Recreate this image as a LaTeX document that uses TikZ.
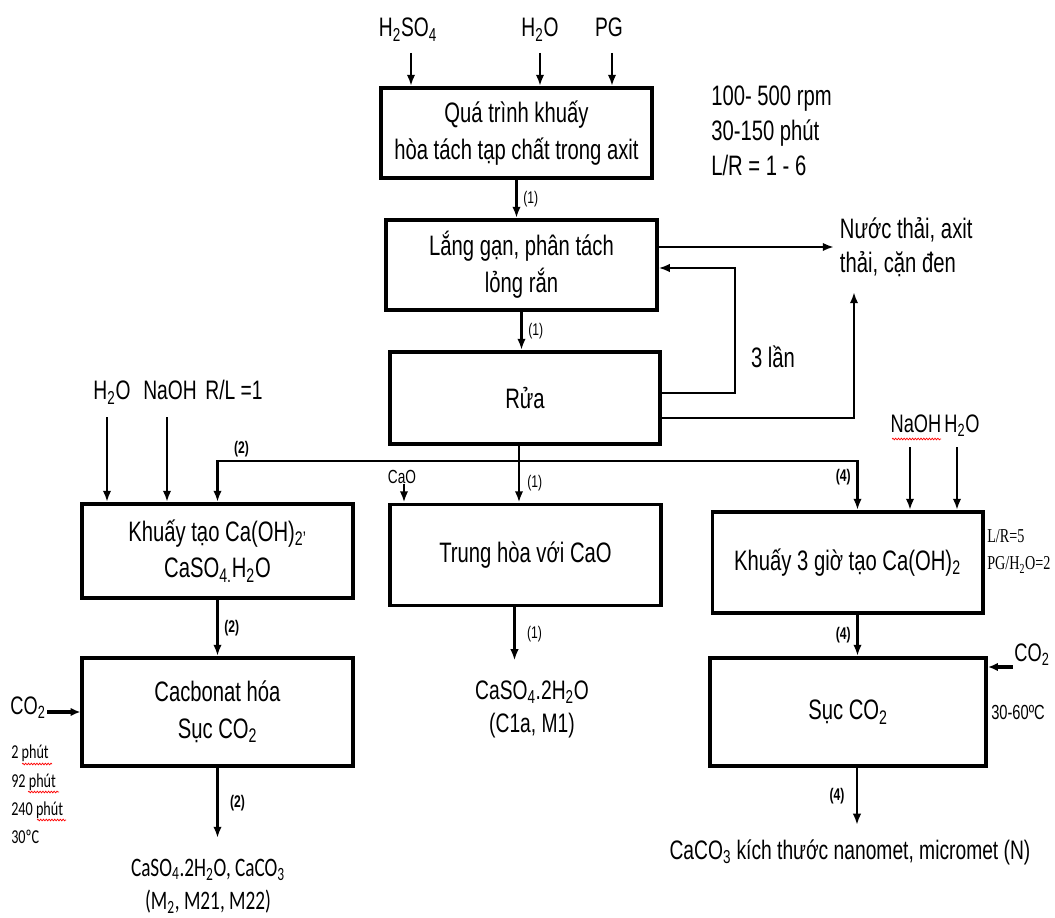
\documentclass[tikz,border=0pt]{standalone}
\usepackage{fontspec}
\setmainfont{Liberation Sans}[FakeStretch=0.72]
\newfontfamily\calibrifont{Carlito}[FakeStretch=0.72]
\newfontfamily\timesfont{Liberation Serif}[FakeStretch=0.72]
\usetikzlibrary{arrows.meta,calc,decorations.pathmorphing,positioning}
\newcommand{\tsub}[1]{\textsubscript{#1}}
\tikzset{%
	process/.style = {draw, rectangle, line width=2.8pt, minimum width=6.75cm, minimum height=2.25cm, text centered, align=center, font=\fontsize{20}{26}\selectfont},
	chem/.style    = {inner sep=1pt, align=center, font=\fontsize{19}{23.5}\selectfont},
	note/.style    = {inner sep=0pt, align=left, font=\fontsize{20}{24}\selectfont},
	lab/.style     = {inner sep=0pt, font=\fontsize{12}{14}\selectfont},
	labb/.style    = {inner sep=0pt, font=\fontsize{12}{14}\selectfont\bfseries},
	cond/.style    = {inner sep=0pt, anchor=west, font=\calibrifont\fontsize{14}{16}\selectfont},
	tnote/.style   = {inner sep=0pt, anchor=west, font=\timesfont\fontsize{14}{16}\selectfont},
	arrow/.style   = {line width=1.8pt,-{Latex[length=8pt,width=6pt]}},
	feed/.style    = {line width=2.6pt,-{Latex[length=7pt,width=6pt]}},
	spell/.style   = {red, line width=0.5pt, decorate, decoration={snake, amplitude=0.6pt, segment length=2pt}},
}
\begin{document}
\begin{tikzpicture}[x=0.025cm, y=-0.025cm]
	\useasboundingbox (0,0) rectangle (1055,918);
	% cac buoc chinh
	\node[process] (quatrinh) at (516.5,133) {Quá trình khuấy\\hòa tách tạp chất trong axit};
	\node[process] (langgan) at (521.5,265) {Lắng gạn, phân tách\\lỏng rắn};
	\node[process, minimum height=2.3cm] (rua) at (525,398) {Rửa};
	\node[process, minimum height=2.35cm] (khuay) at (217.5,551) {Khuấy tạo Ca(OH)\tsub{2'}\\CaSO\tsub{4.}H\tsub{2}O};
	\node[process, minimum height=2.525cm] (trunghoa) at (525.5,555) {Trung hòa với CaO};
	\node[process, minimum height=2.525cm] (khuay3) at (847.5,562.5) {Khuấy 3 giờ tạo Ca(OH)\tsub{2}};
	\node[process, minimum height=2.7cm] (cacbonat) at (217.5,712) {Cacbonat hóa\\Sục CO\tsub{2}};
	\node[process, minimum width=6.9cm, minimum height=2.7cm] (suc) at (848,712) {Sục CO\tsub{2}};
	% nguyen lieu dau vao
	\node[chem, anchor=base] (h2so4) at (408,37) {H\tsub{2}SO\tsub{4}};
	\node[chem, anchor=base] (h2oa) at (540,37) {H\tsub{2}O};
	\node[chem, anchor=base] (pg) at (609,37) {PG};
	\draw[arrow] ([xshift=0.075cm, yshift=-0.4cm]h2so4.base) -- ([xshift=0.075cm]h2so4.base |- quatrinh.north);
	\draw[arrow] ([yshift=-0.4cm]h2oa.base) -- (h2oa.base |- quatrinh.north);
	\draw[arrow] ([xshift=0.075cm, yshift=-0.4cm]pg.base) -- ([xshift=0.075cm]pg.base |- quatrinh.north);
	\node[note, anchor=west, font=\fontsize{20}{25}\selectfont] (dieukien) at (711,131) {100- 500 rpm\\30-150 phút\\L/R = 1 - 6};
	% lang gan, rua
	\draw[arrow] (quatrinh.south) -- node[lab, right=4pt] (so1a) {(1)} (quatrinh.south |- langgan.north);
	\draw[arrow] (langgan.south) -- node[lab, right=4pt] (so1b) {(1)} (langgan.south |- rua.north);
	\node[note, anchor=west, inner sep=4pt] (nuocthai) at (834,247) {Nước thải, axit\\thải, cặn đen};
	\draw[arrow] ([yshift=0.45cm]langgan.east) -- ([yshift=0.45cm]langgan.east -| nuocthai.west);
	\coordinate (vong) at (735,268);
	\draw[arrow] ([yshift=0.125cm]rua.east) -| (vong) -- (vong -| langgan.east);
	\node[note] (lan) at (773,357) {3 lần};
	\coordinate (thai) at (854,292);
	\draw[arrow] ([yshift=-0.5cm]rua.east) -| (thai);
	% re nhanh
	\coordinate (nga) at (519,461);
	\draw[arrow] (rua.south -| nga) -- node[lab, pos=0.65, right=5pt] (so1c) {(1)} (nga |- trunghoa.north);
	\draw[arrow] (nga) -| node[labb, pos=0.46, above=2pt] (so2a) {(2)} (khuay.north);
	\draw[arrow] (nga) -| node[labb, pos=0.66, left=4pt] (so4a) {(4)} ([xshift=0.25cm]khuay3.north);
	\node[lab, font=\fontsize{13.5}{15}\selectfont] (cao) at (402,477) {CaO};
	\draw[arrow] ([xshift=0.05cm]cao.south) -- ([xshift=0.05cm]cao.south |- trunghoa.north);
	% nhanh (2)
	\node[chem, anchor=base] (h2ob) at (112,400) {H\tsub{2}O};
	\node[chem, anchor=base] (naoha) at (170,400) {NaOH};
	\node[chem, anchor=base] (rl) at (234,400) {R/L =1};
	\draw[arrow] ([xshift=-0.125cm, yshift=-0.425cm]h2ob.base) -- ([xshift=-0.125cm]h2ob.base |- khuay.north);
	\draw[arrow] ([xshift=-0.075cm, yshift=-0.425cm]naoha.base) -- ([xshift=-0.075cm]naoha.base |- khuay.north);
	\draw[arrow] (khuay.south) -- node[labb, right=4pt] (so2b) {(2)} (khuay.south |- cacbonat.north);
	\node[chem, font=\fontsize{18}{20}\selectfont] (co2a) at (28,708) {CO\tsub{2}};
	\draw[feed] ([yshift=-0.1cm]co2a.east) -- ([yshift=-0.1cm]co2a.east -| cacbonat.west);
	\node[cond] (t2) at (11,753) {2 phút};
	\node[cond] (t92) at (11,782) {92 phút};
	\node[cond] (t240) at (11,810) {240 phút};
	\node[cond] (t30) at (11,837) {30ºC};
	\draw[spell] (22,764) -- (52,764);
	\draw[spell] (28,792) -- (59,792);
	\draw[spell] (37,820) -- (66,820);
	\draw[arrow] (cacbonat.south) -- node[labb, right=8pt] (so2c) {(2)} ([yshift=-1.75cm]cacbonat.south);
	\node[chem, font=\calibrifont\fontsize{19}{23.5}\selectfont] (ketqua2) at (208,886) {CaSO\tsub{4}.2H\tsub{2}O, CaCO\tsub{3}\\(M\tsub{2}, M21, M22)};
	% nhanh (1)
	\draw[arrow] ([xshift=-0.275cm]trunghoa.south) -- node[lab, right=8pt] (so1d) {(1)} ([xshift=-0.275cm, yshift=-1.325cm]trunghoa.south);
	\node[chem] (ketqua1) at (532,709) {CaSO\tsub{4}.2H\tsub{2}O\\(C1a, M1)};
	% nhanh (4)
	\node[chem, anchor=base, font=\fontsize{18}{20}\selectfont] (naohb) at (916,433) {NaOH};
	\node[chem, anchor=base, font=\fontsize{18}{20}\selectfont] (h2oc) at (962,433) {H\tsub{2}O};
	\draw[spell] (892,439) -- (941,439);
	\draw[arrow] ([xshift=-0.15cm, yshift=-0.35cm]naohb.base) -- ([xshift=-0.15cm]naohb.base |- khuay3.north);
	\draw[arrow] ([xshift=-0.125cm, yshift=-0.35cm]h2oc.base) -- ([xshift=-0.125cm]h2oc.base |- khuay3.north);
	\node[tnote] (lr5) at (987,536) {L/R=5};
	\node[tnote] (pgh2o) at (987,565) {PG/H\tsub{2}O=2};
	\draw[arrow] ([xshift=0.25cm]khuay3.south) -- node[labb, left=4pt] (so4b) {(4)} ([xshift=0.25cm]khuay3.south |- suc.north);
	\node[chem, font=\fontsize{18}{20}\selectfont] (co2b) at (1032,655) {CO\tsub{2}};
	\draw[feed] ([yshift=-0.3cm]co2b.west) -- ([yshift=-0.3cm]co2b.west -| suc.east);
	\node[chem, font=\fontsize{14.5}{16}\selectfont] (nhietdo) at (1018,712) {30-60ºC};
	\draw[arrow] ([xshift=0.225cm]suc.south) -- node[labb, left=8pt] (so4c) {(4)} ([xshift=0.225cm, yshift=-1.425cm]suc.south);
	\node[chem] (ketqua4) at (850,852) {CaCO\tsub{3} kích thước nanomet, micromet (N)};
\end{tikzpicture}
\end{document}
